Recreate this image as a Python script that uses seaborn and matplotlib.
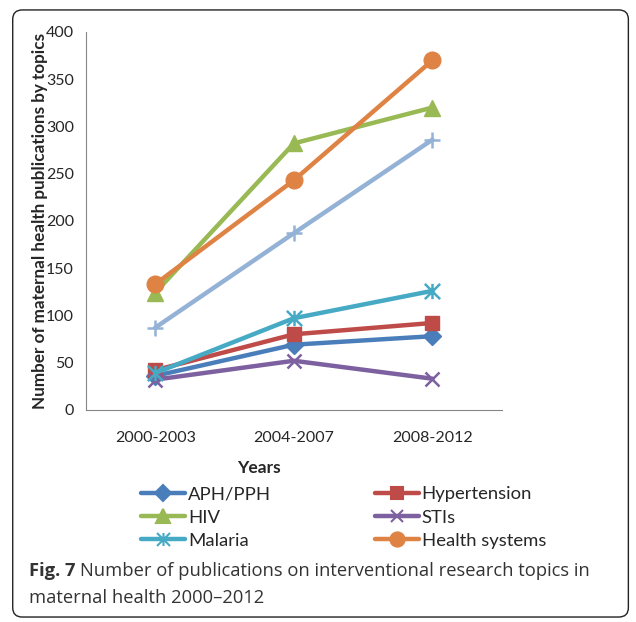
import matplotlib
matplotlib.use("Agg")
import matplotlib.pyplot as plt
import seaborn as sns
import pandas as pd
from matplotlib.patches import FancyBboxPatch
from matplotlib.lines import Line2D
from matplotlib.path import Path

# data
periods = ["2000-2003", "2004-2007", "2008-2012"]
aph_pph = [36, 69, 78]
hypertension = [42, 80, 92]
hiv = [124, 282, 320]
stis = [32, 52, 33]
malaria = [39, 97, 126]
health_systems = [133, 243, 370]
other = [87, 187, 286]  # light blue series, not shown in legend

# excel style asterisk: X plus a vertical bar
star = Path([(0, -1), (0, 1), (-1, -1), (1, 1), (-1, 1), (1, -1)],
            [Path.MOVETO, Path.LINETO, Path.MOVETO, Path.LINETO, Path.MOVETO, Path.LINETO])

series = [
    ("APH/PPH", aph_pph, "#4A7EBB", "D", 9),
    ("Hypertension", hypertension, "#BE4B48", "s", 10.5),
    ("HIV", hiv, "#98B954", "^", 12),
    ("STIs", stis, "#7D60A0", "x", 10),
    ("Malaria", malaria, "#46AAC5", star, 11),
    ("Health systems", health_systems, "#DF8344", "o", 12),
    ("Other", other, "#94B2D6", "+", 12),
]

sns.set_style("white")
plt.rcParams["font.family"] = ["Lato", "DejaVu Sans"]

fig = plt.figure(figsize=(6.36, 6.22), dpi=100)
ax = fig.add_axes([0.135, 0.341, 0.654, 0.6077])

handles = {}
for name, vals, col, mk, ms in series:
    thin = mk in ("x", "+") or isinstance(mk, Path)
    df = pd.DataFrame({"x": range(len(periods)), "y": vals})
    sns.lineplot(data=df, x="x", y="y", ax=ax, color=col, linewidth=3.2,
                 marker=mk, markersize=ms, markeredgecolor=col,
                 markeredgewidth=1.8 if thin else 1)
    handles[name] = Line2D([], [], color=col, linewidth=3.2, marker=mk,
                           markersize=ms * 0.85, markeredgecolor=col,
                           markeredgewidth=1.5)

ax.set_xlim(-0.5, 2.5)
ax.set_ylim(0, 400)
ax.set_yticks(range(0, 401, 50))
ax.set_xticks(range(3))
ax.set_xticklabels(periods)
ax.set_xticks([-0.5, 0.5, 1.5, 2.5], minor=True)
ax.tick_params(axis="x", which="major", length=0, labelsize=11.5, pad=15)
ax.tick_params(axis="x", which="minor", length=5, color="#868686", direction="out")
ax.tick_params(axis="y", length=5, color="#868686", direction="out", labelsize=11.5)
for s in ["top", "right"]:
    ax.spines[s].set_visible(False)
for s in ["left", "bottom"]:
    ax.spines[s].set_color("#868686")
ax.set_xlabel("Years", fontsize=12.5, fontweight="bold")
ax.set_ylabel("Number of maternal health publications by topics",
              fontsize=12.3, fontweight="bold")
ax.xaxis.set_label_coords(0.415, -0.133)
ax.yaxis.set_label_coords(-0.09, 0.5)

order = ["APH/PPH", "HIV", "Malaria", "Hypertension", "STIs", "Health systems"]
fig.legend([handles[n] for n in order], order, ncol=2, frameon=False,
           loc="center", bbox_to_anchor=(0.54, 0.168), fontsize=13.3,
           handlelength=2.4, handletextpad=0.15, columnspacing=5.6,
           labelspacing=0.38)

# caption box
box = FancyBboxPatch((0.02, 0.008), 0.968, 0.976, boxstyle="round,pad=0,rounding_size=0.015",
                     transform=fig.transFigure, fill=False, edgecolor="#222222",
                     linewidth=1, zorder=0)
fig.add_artist(box)
cap = ["Open Sans", "DejaVu Sans"]
fig.text(0.045, 0.082, "Fig. 7", fontsize=13.2, fontweight="bold",
         family=cap, color="#333333", va="center")
fig.text(0.125, 0.082, "Number of publications on interventional research topics in",
         fontsize=13.2, family=cap, color="#333333", va="center")
fig.text(0.045, 0.038, "maternal health 2000\u20132012", fontsize=13.2,
         family=cap, color="#333333", va="center")

fig.savefig("out.png", dpi=100)
